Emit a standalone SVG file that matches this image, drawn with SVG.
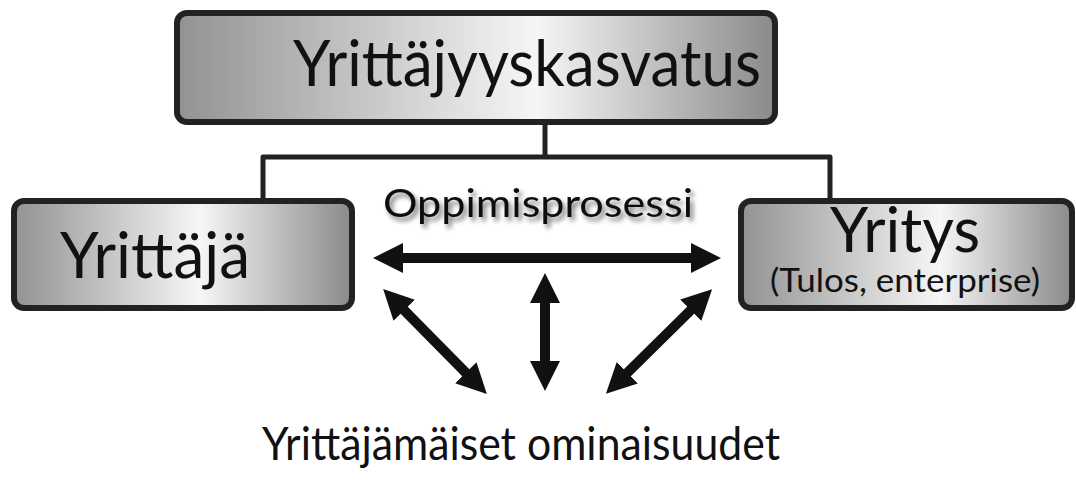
<svg xmlns="http://www.w3.org/2000/svg" width="1076" height="486" viewBox="0 0 1076 486">
<style>
.box{stroke:#222;stroke-width:6}
.t{font-family:Lato,"Noto Sans","DejaVu Sans",sans-serif;fill:#111}
.ln{fill:none;stroke:#222;stroke-width:5;stroke-linejoin:round}
.ar{stroke:#111;stroke-width:10;fill:none}
</style>
<defs>
<linearGradient id="gTop" x1="0" y1="0" x2="1" y2="0">
<stop offset="0" stop-color="#929292"/><stop offset="0.6" stop-color="#f6f6f6"/><stop offset="1" stop-color="#8a8a8a"/>
</linearGradient>
<linearGradient id="gL" x1="0" y1="0" x2="1" y2="0">
<stop offset="0" stop-color="#929292"/><stop offset="0.55" stop-color="#f6f6f6"/><stop offset="1" stop-color="#8a8a8a"/>
</linearGradient>
<linearGradient id="gR" x1="0" y1="0" x2="1" y2="0">
<stop offset="0" stop-color="#929292"/><stop offset="0.6" stop-color="#f6f6f6"/><stop offset="1" stop-color="#8a8a8a"/>
</linearGradient>
<filter id="sh" x="-10%" y="-30%" width="120%" height="160%">
<feGaussianBlur in="SourceAlpha" stdDeviation="2.5"/><feOffset dx="3" dy="4" result="b"/>
<feComponentTransfer><feFuncA type="linear" slope="0.55"/></feComponentTransfer>
<feMerge><feMergeNode/><feMergeNode in="SourceGraphic"/></feMerge>
</filter>
<marker id="ah" viewBox="0 0 10 10" refX="2" refY="5" markerWidth="3" markerHeight="3.2" orient="auto-start-reverse" markerUnits="strokeWidth">
<path d="M0,0 L10,5 L0,10 Z" fill="#111"/>
</marker>
</defs>
<rect width="1076" height="486" fill="#fff"/>
<g id="connectors">
<path class="ln" d="M545,122 V157 M263,200 V157 H830 V200"/>
<line class="ar" x1="397" y1="258" x2="697" y2="258" marker-start="url(#ah)" marker-end="url(#ah)"/>
<line class="ar" x1="545" y1="297" x2="545" y2="367" marker-start="url(#ah)" marker-end="url(#ah)"/>
<line class="ar" x1="400" y1="306" x2="470" y2="377" marker-start="url(#ah)" marker-end="url(#ah)"/>
<line class="ar" x1="695" y1="306" x2="623" y2="377" marker-start="url(#ah)" marker-end="url(#ah)"/>
</g>
<g id="top">
<rect class="box" x="177" y="13" width="598" height="109" rx="10" fill="url(#gTop)"/>
<text class="t" x="293" y="86" font-size="64" textLength="468" lengthAdjust="spacingAndGlyphs">Yrittäjyyskasvatus</text>
</g>
<g id="yrittaja">
<rect class="box" x="14" y="201" width="338" height="107" rx="10" fill="url(#gL)"/>
<text class="t" x="60" y="278" font-size="64" textLength="190" lengthAdjust="spacingAndGlyphs">Yrittäjä</text>
</g>
<g id="yritys">
<rect class="box" x="741" y="201" width="331" height="107" rx="10" fill="url(#gR)"/>
<text class="t" x="830" y="252" font-size="62" textLength="150" lengthAdjust="spacingAndGlyphs">Yritys</text>
<text class="t" x="770" y="292" font-size="32" textLength="270" lengthAdjust="spacingAndGlyphs">(Tulos, enterprise)</text>
</g>
<g id="oppimis">
<text class="t" x="383" y="217" font-size="38" filter="url(#sh)" textLength="310" lengthAdjust="spacingAndGlyphs">Oppimisprosessi</text>
</g>
<g id="ominaisuudet">
<text class="t" x="262" y="460" font-size="46" textLength="518" lengthAdjust="spacingAndGlyphs">Yrittäjämäiset ominaisuudet</text>
</g>
</svg>
